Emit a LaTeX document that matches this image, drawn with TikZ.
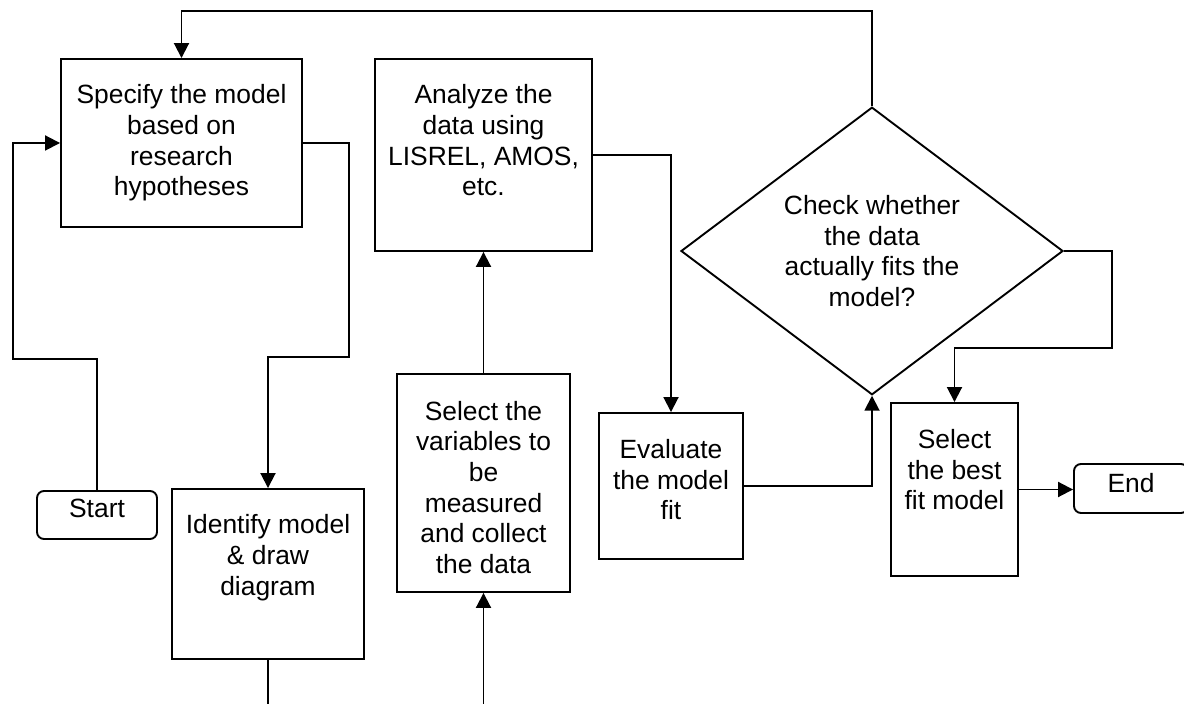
\documentclass[tikz,border=0pt]{standalone}
\usepackage{fontspec}
\setmainfont{Liberation Sans}
\usetikzlibrary{shapes.geometric,arrows.meta}
\newcommand{\bxt}[4]{\parbox[c][#2][t]{#1}{\centering\vspace*{#3}#4\par}}
\begin{document}
\begin{tikzpicture}[x=0.5pt,y=-0.5pt,
  every node/.style={font=\fontsize{13.2pt}{15.35pt}\selectfont},
  line/.style={line width=0.95pt},
  arr/.style={line width=0.95pt,-{Triangle[length=7.5pt,width=7.5pt]}},
  stepbox/.style={draw,line width=0.95pt,inner sep=0pt,rectangle},
  termbox/.style={draw,line width=0.95pt,inner sep=0pt,rectangle,rounded corners=3.5pt},
  decbox/.style={draw,line width=0.95pt,inner sep=0pt,diamond,align=center,
     minimum width=191pt,minimum height=119pt}]
\clip (0,0) rectangle (1184,704);
\fill[white] (0,0) rectangle (1184,704);
% boxes
\node[stepbox] (spec) at (181.5,143) {\bxt{120.5pt}{84pt}{12.8pt}{Specify the model\\based on\\research\\hypotheses}};
\node[stepbox] (anal) at (483.5,155) {\bxt{108.5pt}{96pt}{12.8pt}{Analyze the\\data using\\LISREL, AMOS,\\etc.}};
\node[stepbox] (ident) at (268,574) {\bxt{96pt}{85pt}{12.8pt}{Identify model\\\& draw\\diagram}};
\node[stepbox] (selvar) at (483.5,483) {\bxt{86.5pt}{109pt}{13.5pt}{Select the\\variables to\\be\\measured\\and collect\\the data}};
\node[stepbox] (eval) at (671,486) {\bxt{72pt}{73pt}{13.2pt}{Evaluate\\the model\\fit}};
\node[stepbox] (best) at (954.5,489.5) {\bxt{63.5pt}{86.5pt}{13.2pt}{Select\\the best\\fit model}};
\node[termbox] (start) at (97,515) {\bxt{60pt}{24pt}{4pt}{Start}};
\node[termbox] (end) at (1131,488.5) {\bxt{57pt}{24.5pt}{4.8pt}{End}};
\node[decbox] (dia) at (872,251) {Check whether\\the data\\actually fits the\\model?};
% bend points and free ends
\coordinate (c1) at (13,359);
\coordinate (c2) at (349,357);
\coordinate (c3) at (872,11);
\coordinate (c4) at (1112,348);
\coordinate (b1) at (268,704);
\coordinate (b2) at (483.5,704);
% connectors
\draw[arr] (start.north) |- (c1) |- (spec.west);
\draw[arr] (spec.east) -| (c2) -| (ident.north);
\draw[line] (ident.south) -- (b1);
\draw[arr] (b2) -- (selvar.south);
\draw[arr] (selvar.north) -- (anal.south);
\draw[arr] (anal.east) -| (eval.north);
\draw[arr] (eval.east) -| (dia.south);
\draw[arr] (dia.north) -- (c3) -| (spec.north);
\draw[arr] (dia.east) -| (c4) -| (best.north);
\draw[arr] (best.east) -- (best.east -| end.west);
\end{tikzpicture}
\end{document}
